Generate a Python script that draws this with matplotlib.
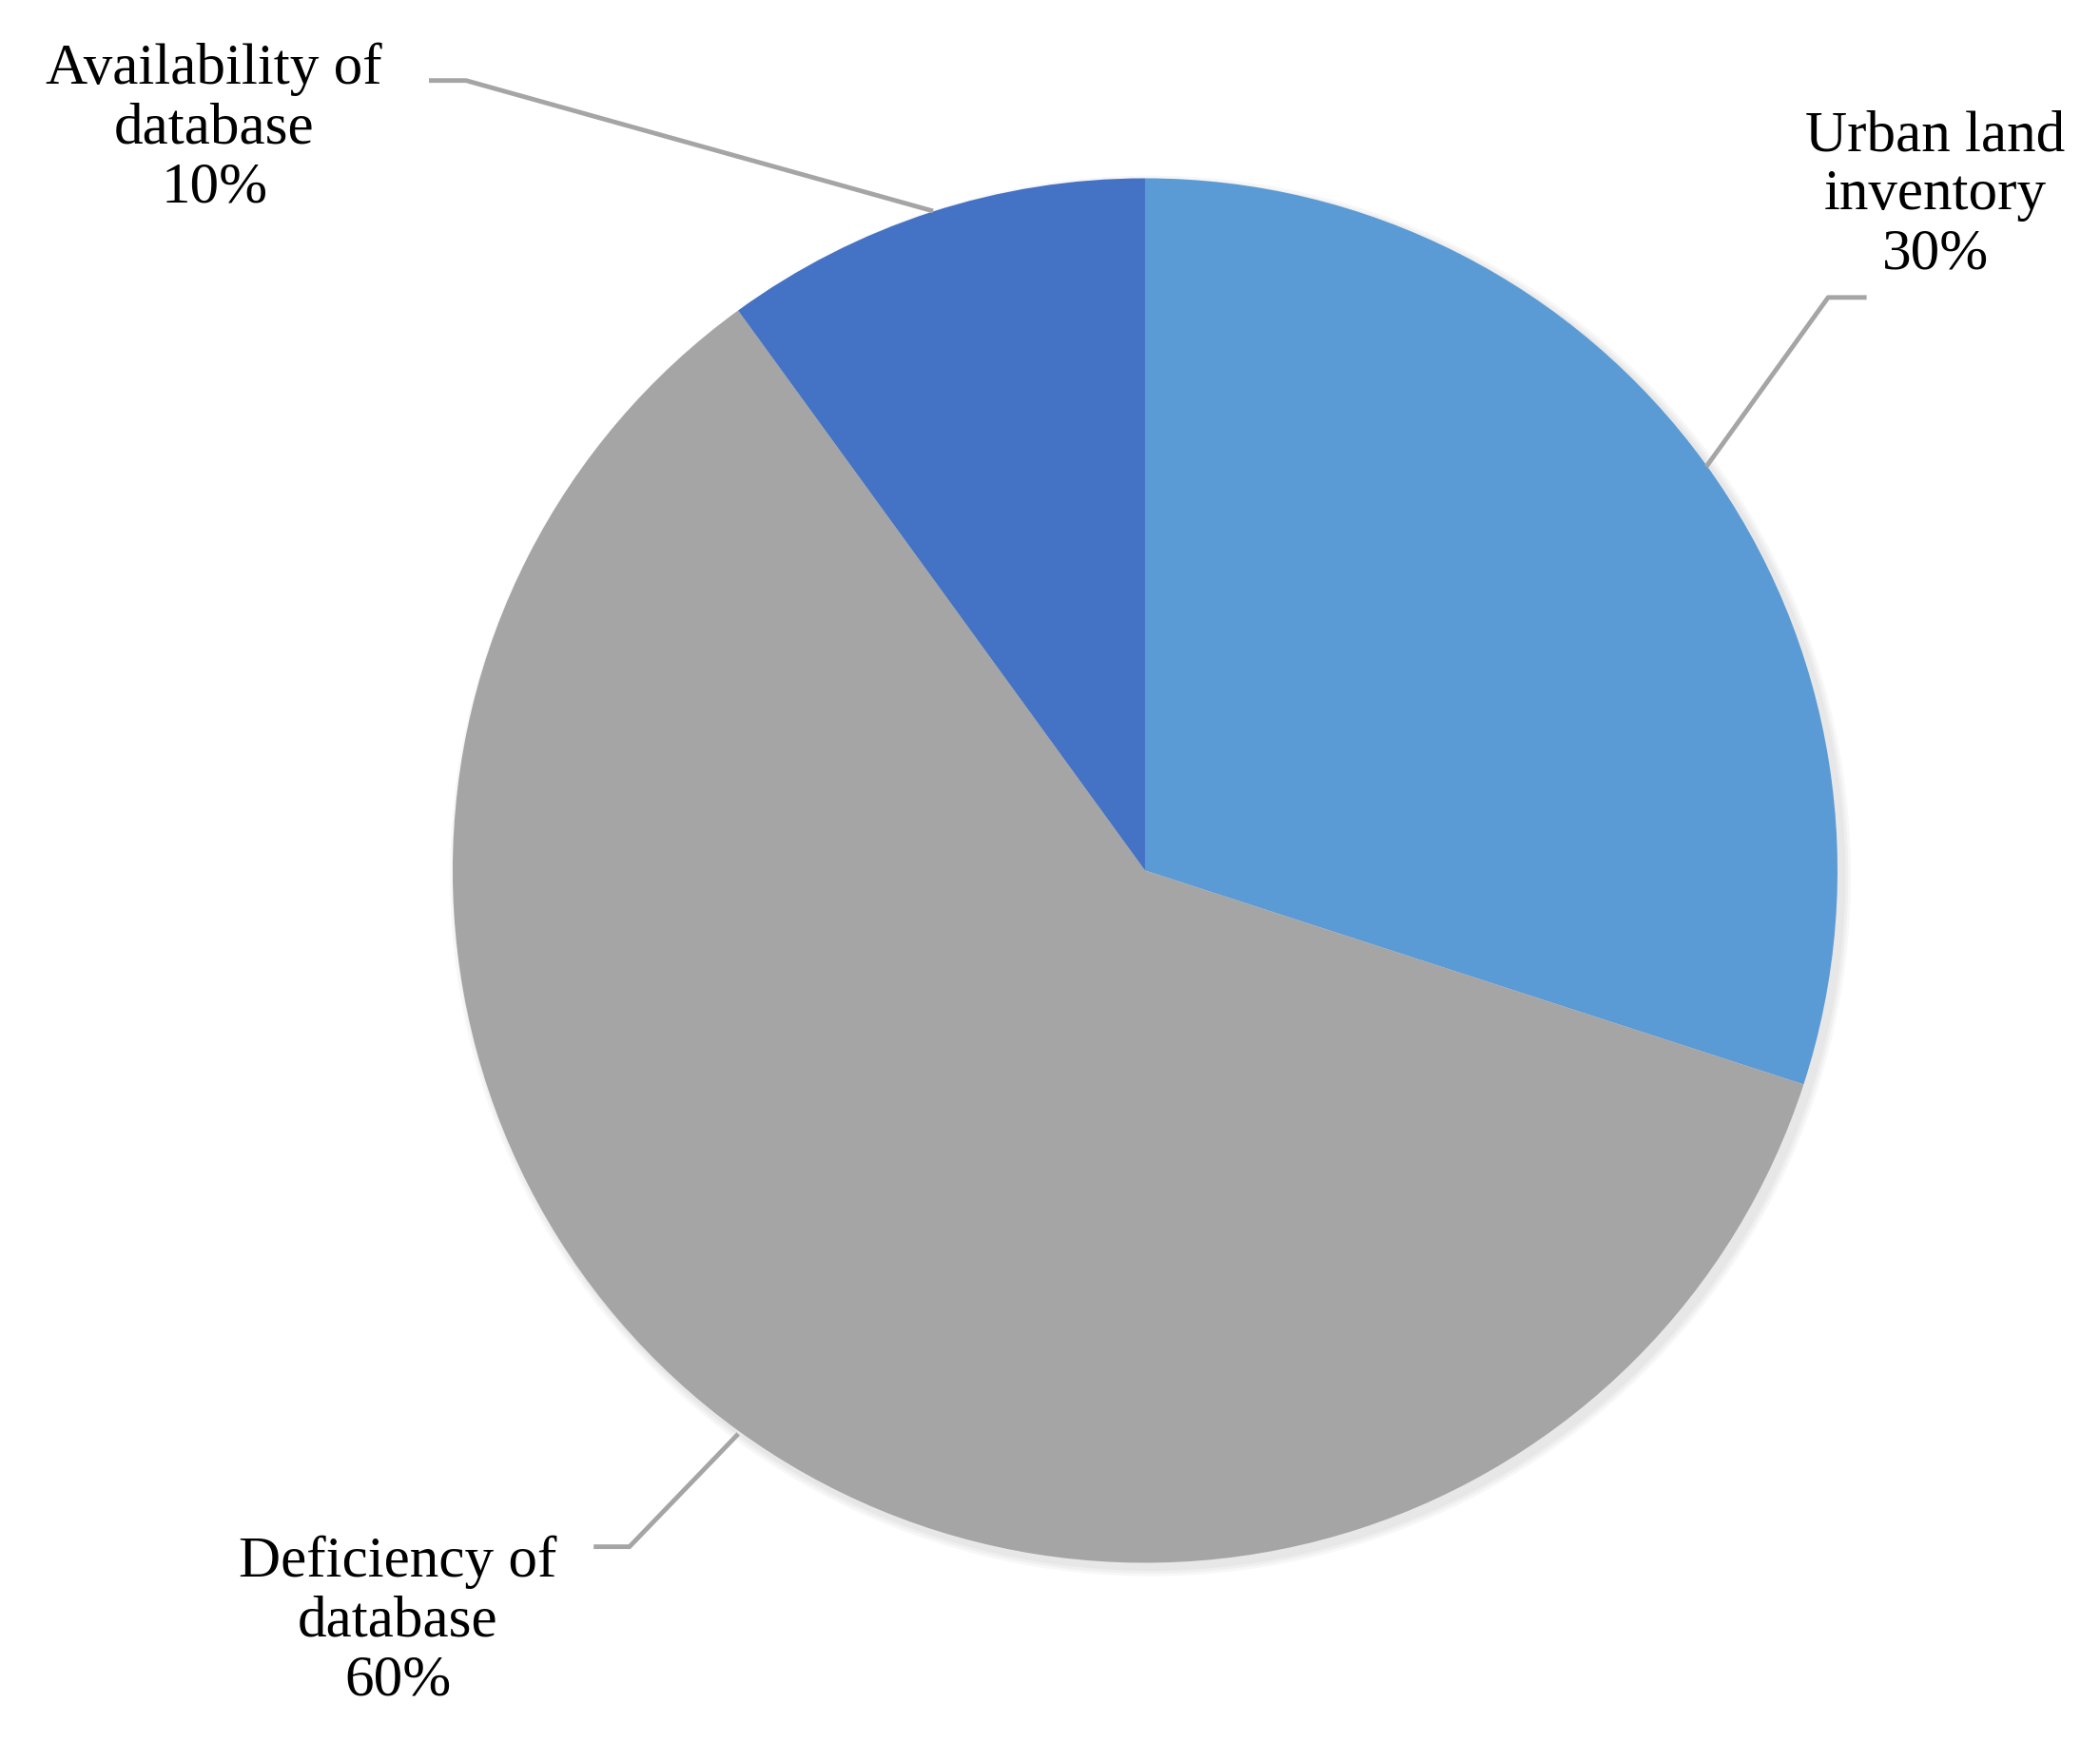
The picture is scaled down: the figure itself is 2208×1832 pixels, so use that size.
import matplotlib.pyplot as plt

labels = ["Urban land\ninventory\n30%", "Deficiency of\ndatabase\n60%", "Availability of\ndatabase\n10%"]
values = [30, 60, 10]
colors = ["#5B9BD5", "#A5A5A5", "#4472C4"]

W, H = 1568, 1300
fig = plt.figure(figsize=(22.08, 18.33), dpi=100)
ax = fig.add_axes([0, 0, 1, 1])
ax.set_xlim(0, W)
ax.set_ylim(0, H)
ax.axis("off")

cx, cy, r = 855, H - 650, 517
# soft shadow
for i, a in enumerate([0.03, 0.03, 0.03]):
    ax.add_patch(plt.Circle((cx + 4, cy - 4), r + 6 - 2 * i, color="k", alpha=a, lw=0))
ax.pie(values, colors=colors, startangle=90, counterclock=False,
       center=(cx, cy), radius=r, frame=True)
ax.set_xlim(0, W)
ax.set_ylim(0, H)
ax.set_aspect("equal")
ax.axis("off")

lc = "#A5A5A5"
font = dict(family="Liberation Serif", fontsize=44, ha="center", va="center", linespacing=1.15)
# Urban land inventory
ax.plot([1275, 1365, 1392], [H - 347, H - 222, H - 222], color=lc, lw=3.5)
ax.text(1445, H - 145, labels[0], **font)
# Deficiency
ax.plot([550, 470, 445], [H - 1072, H - 1155, H - 1155], color=lc, lw=3.5)
ax.text(297, H - 1210, labels[1], **font)
# Availability
ax.plot([695, 348, 322], [H - 157, H - 60, H - 60], color=lc, lw=3.5)
ax.text(160, H - 95, labels[2], **font)

fig.savefig("out.png", dpi=100)
